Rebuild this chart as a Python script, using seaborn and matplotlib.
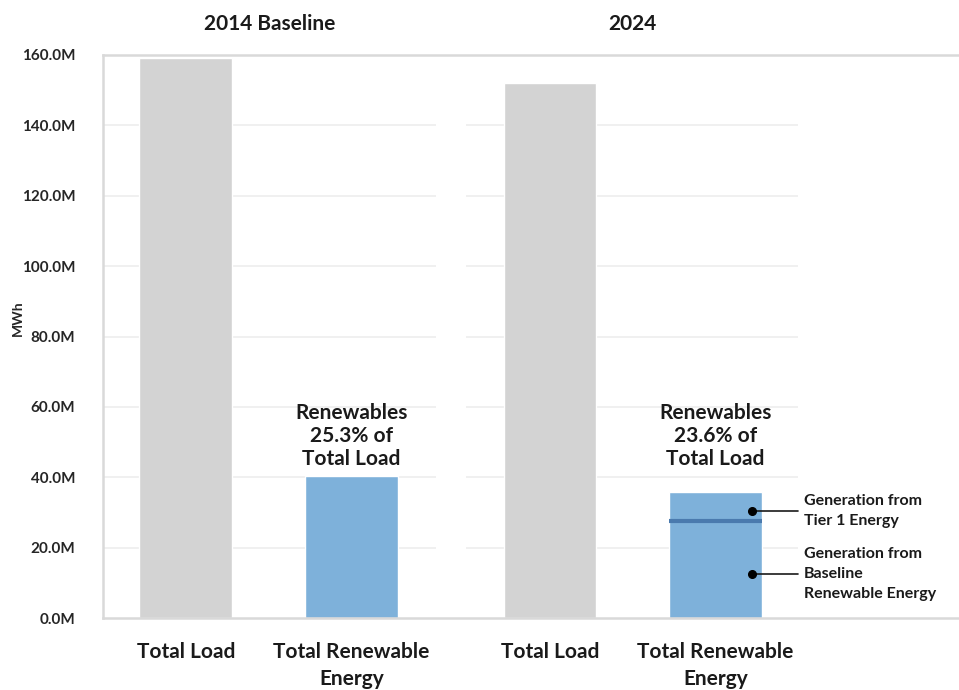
import matplotlib
matplotlib.use("Agg")
import matplotlib.pyplot as plt
import seaborn as sns
import pandas as pd

# --- data (MWh, millions) ---
panels = ["2014 Baseline", "2024"]
categories = ["Total Load", "Total Renewable\nEnergy"]
total_load = [159.2, 152.1]
renewables = [40.3, 35.9]
renewable_share = ["25.3%", "23.6%"]
tier1_top = 27.6  # 2024 split between baseline renewables and Tier 1 generation
y_ticks = [0, 20, 40, 60, 80, 100, 120, 140, 160]

# bar centres along the shared axis (two groups separated by a gap)
positions = [0.0, 1.0, 2.2, 3.2]

sns.set_theme(style="white")
plt.rcParams["font.family"] = ["Lato", "DejaVu Sans"]
plt.rcParams["font.weight"] = "bold"

df = pd.DataFrame({
    "pos": positions,
    "value": [total_load[0], renewables[0], total_load[1], renewables[1]],
    "kind": ["load", "renew", "load", "renew"],
})
palette = {"load": "#D3D3D3", "renew": "#7EB1DA"}

fig = plt.figure(figsize=(9.59, 6.9), dpi=100)
ax = fig.add_axes([103 / 959, 1 - 618 / 690, (959 - 103) / 959, (618 - 55) / 690])

sns.barplot(data=df, x="pos", y="value", hue="kind", palette=palette,
            native_scale=True, width=0.56, dodge=False, legend=False,
            saturation=1, ax=ax)

ax.set_xlim(-0.50, 4.67)
ax.set_ylim(0, 160)

# per-panel horizontal gridlines
panel_spans = [(-0.50, 1.51), (1.69, 3.70)]
for x0, x1 in panel_spans:
    ax.hlines(y_ticks[1:-1], x0, x1, colors="#EFEFEF", linewidth=1.3, zorder=0)

# Tier 1 divider inside the 2024 renewable bar
bw = 0.56
ax.hlines(tier1_top, positions[3] - bw / 2, positions[3] + bw / 2,
          colors="#4A7AAE", linewidth=3, zorder=3)

# spines
for side in ["left", "top", "bottom"]:
    ax.spines[side].set_visible(True)
    ax.spines[side].set_color("#D9D9D9")
    ax.spines[side].set_linewidth(1.8)
ax.spines["right"].set_visible(False)

ax.set_yticks(y_ticks)
ax.set_yticklabels([f"{v:.1f}M" for v in y_ticks], fontsize=11, fontweight="bold",
                   color="#262626")
ax.set_xticks(positions)
ax.set_xticklabels(categories * 2, fontsize=15, fontweight="bold", color="#1a1a1a",
                   linespacing=1.45, va="top")
ax.tick_params(axis="both", length=0)
ax.tick_params(axis="y", pad=20)
ax.tick_params(axis="x", pad=17)
ax.set_xlabel("")
ax.set_ylabel("")
fig.text(18 / 959, 1 - 318 / 690, "MWh", rotation=90, ha="center", va="center",
         fontsize=10, fontweight="bold", color="#262626")

# panel titles
for (x0, x1), title in zip(panel_spans, panels):
    ax.text((x0 + x1) / 2, 1.055, title, transform=ax.get_xaxis_transform(),
            ha="center", va="center", fontsize=15, fontweight="bold", color="#1a1a1a")

# renewable share callouts, aligned at a common height above the bars
callout_y = max(renewables) + 2.0
for pos, share in zip([positions[1], positions[3]], renewable_share):
    ax.text(pos, callout_y, f"Renewables\n{share} of\nTotal Load", ha="center", va="bottom",
            fontsize=15, fontweight="bold", color="#1a1a1a", linespacing=1.2)

# leader-line annotations for the 2024 split
notes = [(30.4, "Generation from\nTier 1 Energy"),
         (12.4, "Generation from\nBaseline\nRenewable Energy")]
for yv, txt in notes:
    ax.plot([3.42, 3.70], [yv, yv], color="#1a1a1a", linewidth=1.2, zorder=4)
    ax.plot([3.42], [yv], "o", color="black", markersize=5.5, zorder=5)
    ax.text(3.735, yv, txt, ha="left", va="center",
            fontsize=11.5, fontweight="bold", color="#1a1a1a", linespacing=1.55)

fig.savefig("out.png", dpi=100, facecolor="white")
